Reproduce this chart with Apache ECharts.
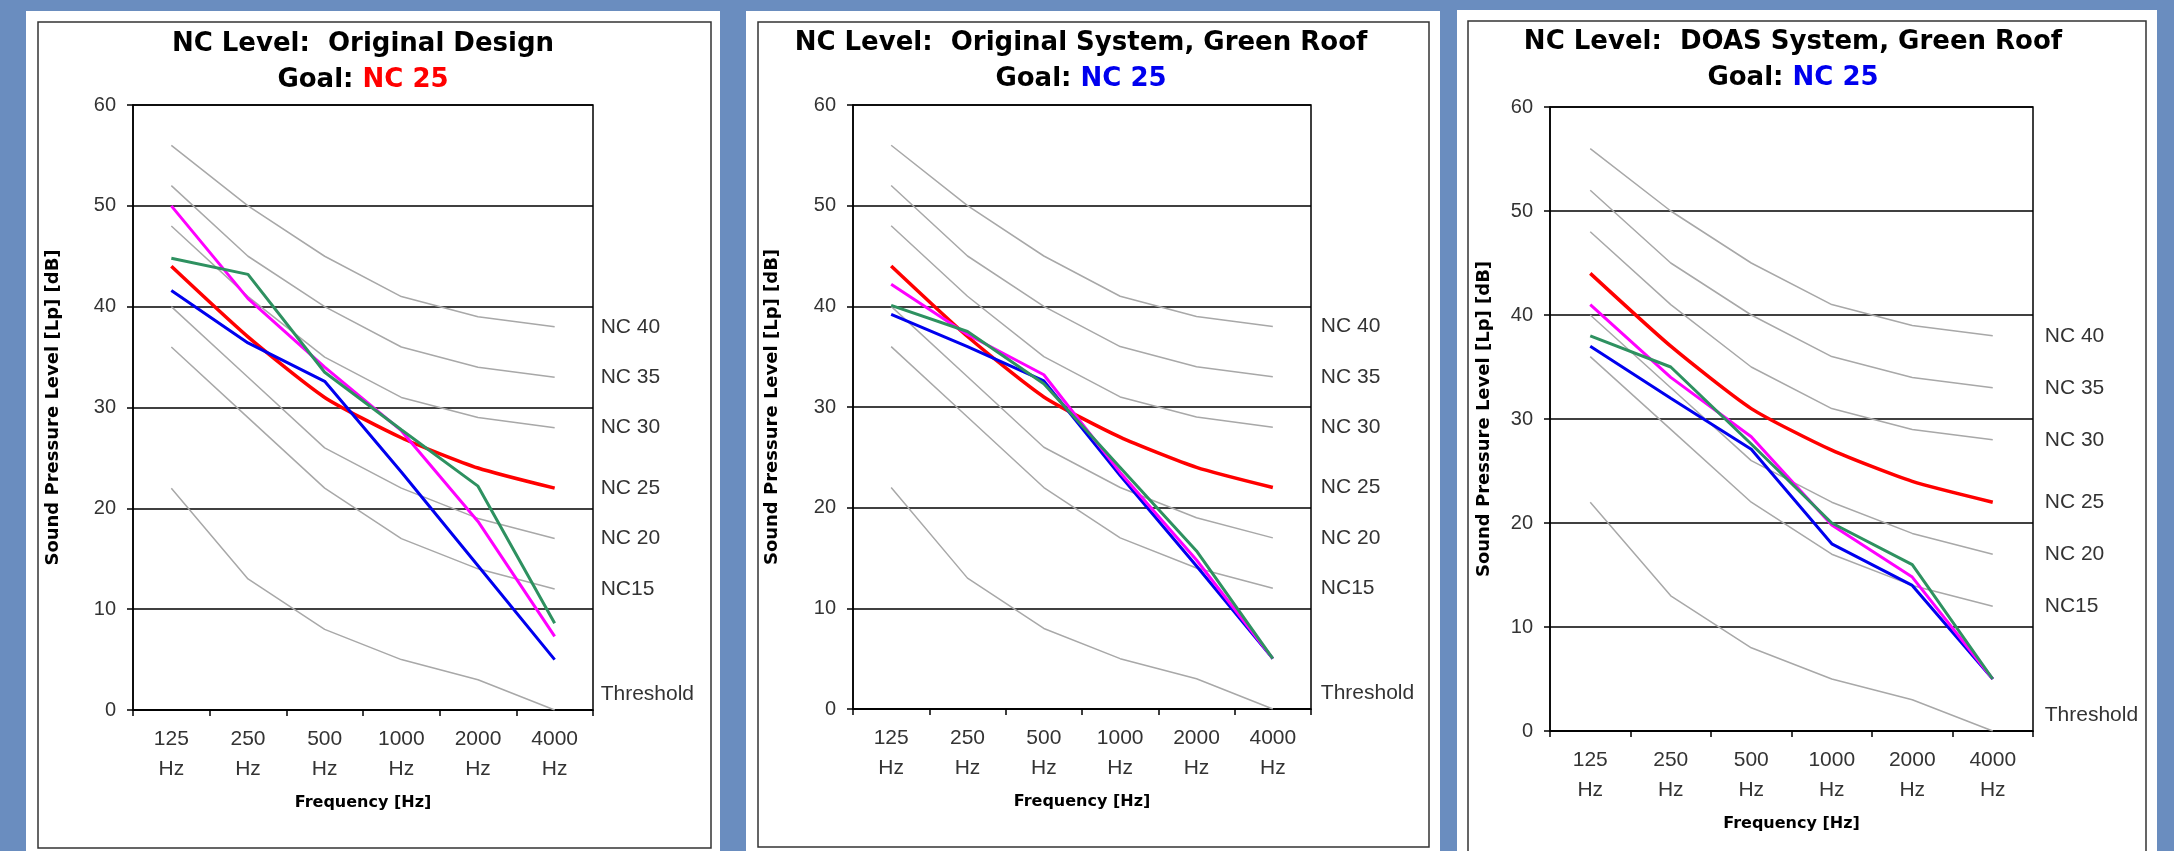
<!DOCTYPE html>
<html>
<head>
<meta charset="utf-8">
<script src="https://cdn.jsdelivr.net/npm/echarts@6/dist/echarts.min.js"></script>
<style>
  html, body { margin: 0; padding: 0; background: #6a8dbf; }
  #chart { width: 2174px; height: 851px; }
</style>
</head>
<body>
<div id="chart"></div>
<script>
// octave bands on the x axis
const freqs = ['125 Hz', '250 Hz', '500 Hz', '1000 Hz', '2000 Hz', '4000 Hz']
// y axis range / step (dB)
const yMin = 0
const yMax = 60
const yStep = 10

// reference NC curves (same in every panel)
const nc40 = [56, 50, 45, 41, 39, 38]
const nc35 = [52, 45, 40, 36, 34, 33]
const nc30 = [48, 41, 35, 31, 29, 28]
const nc25 = [44, 37, 31, 27, 24, 22]
const nc20 = [40, 33, 26, 22, 19, 17]
const nc15 = [36, 29, 22, 17, 14, 12]
const threshold = [22, 13, 8, 5, 3, 0]

// measured levels, panel 1: original design
const designMagenta = [50, 40.8, 34, 27.7, 18.7, 7.3]
const designGreen = [44.8, 43.2, 33.5, 27.8, 22.2, 8.6]
const designBlue = [41.6, 36.4, 32.6, 23.6, 14.3, 5]
// panel 2: original system, green roof
const roofMagenta = [42.2, 37.2, 33.2, 23.5, 14.8, 5]
const roofGreen = [40.1, 37.5, 32.3, 24, 15.7, 5]
const roofBlue = [39.2, 36, 32.6, 23.2, 14.2, 5]
// panel 3: DOAS system, green roof
const doasMagenta = [41, 34, 28.3, 19.8, 14.8, 5]
const doasGreen = [38, 35, 27.6, 20, 16, 5]
const doasBlue = [37, 32, 27.1, 18, 14, 5]

const titles = [
  'NC Level:  Original Design',
  'NC Level:  Original System, Green Roof',
  'NC Level:  DOAS System, Green Roof'
]
const goalLabel = 'Goal: '
const goalValue = 'NC 25'

const refCurves = [
  { name: 'NC 40', data: nc40 },
  { name: 'NC 35', data: nc35 },
  { name: 'NC 30', data: nc30 },
  { name: 'NC 20', data: nc20 },
  { name: 'NC15', data: nc15 },
  { name: 'Threshold', data: threshold }
]
const measured = [
  [designBlue, designMagenta, designGreen],
  [roofBlue, roofMagenta, roofGreen],
  [doasBlue, doasMagenta, doasGreen]
]

// panel layout (pixels)
const panels = [
  { left: 133, top: 105, width: 460, height: 605, white: [26, 11, 694, 850], frame: [38, 22, 673, 826], titleX: 363, titleY: 26, goalColor: '#ff0000', nameGap: 71, labelGap: 46 },
  { left: 853, top: 105, width: 458, height: 604, white: [746, 11, 694, 850], frame: [758, 22, 671, 825], titleX: 1081, titleY: 25, goalColor: '#0000ee', nameGap: 72, labelGap: 48 },
  { left: 1550, top: 107, width: 483, height: 624, white: [1457, 10, 700, 850], frame: [1468, 21, 678, 850], titleX: 1793, titleY: 24, goalColor: '#0000ee', nameGap: 57, labelGap: 52 }
]

const font = 'Liberation Sans, Arial, sans-serif'
const boldFont = 'DejaVu Sans, Liberation Sans, sans-serif'
const measuredColors = ['#0000ee', '#ff00ff', '#2e9160']

const graphic = []
const title = []
const grid = []
const xAxis = []
const yAxis = []
const series = []

panels.forEach((p, i) => {
  graphic.push({
    type: 'rect',
    z: -10,
    shape: { x: p.white[0], y: p.white[1], width: p.white[2], height: p.white[3] },
    style: { fill: '#ffffff' }
  })
  graphic.push({
    type: 'rect',
    z: -9,
    shape: { x: p.frame[0], y: p.frame[1], width: p.frame[2], height: p.frame[3] },
    style: { fill: 'none', stroke: '#333', lineWidth: 1.5 }
  })

  title.push({
    left: p.titleX,
    top: p.titleY,
    padding: 0,
    textAlign: 'center',
    text: '{t|' + titles[i] + '}\n{t|' + goalLabel + '}{g|' + goalValue + '}',
    textStyle: {
      rich: {
        t: { fontFamily: boldFont, fontWeight: 'bold', fontSize: 26, color: '#000', lineHeight: 36 },
        g: { fontFamily: boldFont, fontWeight: 'bold', fontSize: 26, color: p.goalColor, lineHeight: 36 }
      }
    }
  })

  grid.push({
    left: p.left,
    top: p.top,
    width: p.width,
    height: p.height,
    show: true,
    borderColor: '#000',
    borderWidth: 1.5,
    backgroundColor: 'transparent'
  })

  xAxis.push({
    gridIndex: i,
    type: 'category',
    boundaryGap: true,
    data: freqs,
    name: 'Frequency [Hz]',
    nameLocation: 'middle',
    nameGap: 85,
    nameTextStyle: { fontFamily: boldFont, fontWeight: 'bold', fontSize: 16, color: '#000' },
    axisLine: { lineStyle: { color: '#000', width: 1.5 } },
    axisTick: { show: true, length: 6, lineStyle: { color: '#000', width: 1.5 } },
    axisLabel: {
      interval: 0,
      margin: 14,
      fontFamily: font,
      fontSize: 21,
      lineHeight: 30,
      color: '#333',
      formatter: v => v.replace(' ', '\n')
    },
    splitLine: { show: false }
  })

  yAxis.push({
    gridIndex: i,
    type: 'value',
    min: yMin,
    max: yMax,
    interval: yStep,
    name: 'Sound Pressure Level [Lp] [dB]',
    nameLocation: 'middle',
    nameRotate: 90,
    nameGap: p.nameGap,
    nameTextStyle: { fontFamily: boldFont, fontWeight: 'bold', fontSize: 18, color: '#000' },
    axisLine: { show: true, lineStyle: { color: '#000', width: 1.5 } },
    axisTick: { show: true, length: 6, lineStyle: { color: '#000', width: 1.5 } },
    axisLabel: { margin: 17, fontFamily: font, fontSize: 20, color: '#333' },
    splitLine: { show: true, lineStyle: { color: '#000', width: 1.5 } }
  })

  const endLabel = (offsetY) => ({
    show: true,
    formatter: params => params.seriesName,
    distance: p.labelGap,
    offset: [0, offsetY],
    fontFamily: font,
    fontSize: 21,
    color: '#333'
  })

  refCurves.forEach(c => {
    series.push({
      name: c.name,
      type: 'line',
      xAxisIndex: i,
      yAxisIndex: i,
      data: c.data,
      symbol: 'none',
      silent: true,
      z: 2,
      lineStyle: { color: '#a8a8a8', width: 1.5 },
      endLabel: endLabel(c.name === 'Threshold' ? -16 : 0)
    })
  })

  series.push({
    name: 'NC 25',
    type: 'line',
    xAxisIndex: i,
    yAxisIndex: i,
    data: nc25,
    symbol: 'none',
    smooth: 0.2,
    z: 3,
    lineStyle: { color: '#ff0000', width: 3.5 },
    endLabel: endLabel(0)
  })

  measured[i].forEach((values, k) => {
    series.push({
      name: 'measured ' + (k + 1),
      type: 'line',
      xAxisIndex: i,
      yAxisIndex: i,
      data: values,
      symbol: 'none',
      z: 4 + k,
      lineStyle: { color: measuredColors[k], width: 3 }
    })
  })
})

const option = {
  backgroundColor: '#6a8dbf',
  animation: false,
  graphic,
  title,
  grid,
  xAxis,
  yAxis,
  series
}

const chart = echarts.init(document.getElementById('chart'))
chart.setOption(option)
</script>
</body>
</html>
